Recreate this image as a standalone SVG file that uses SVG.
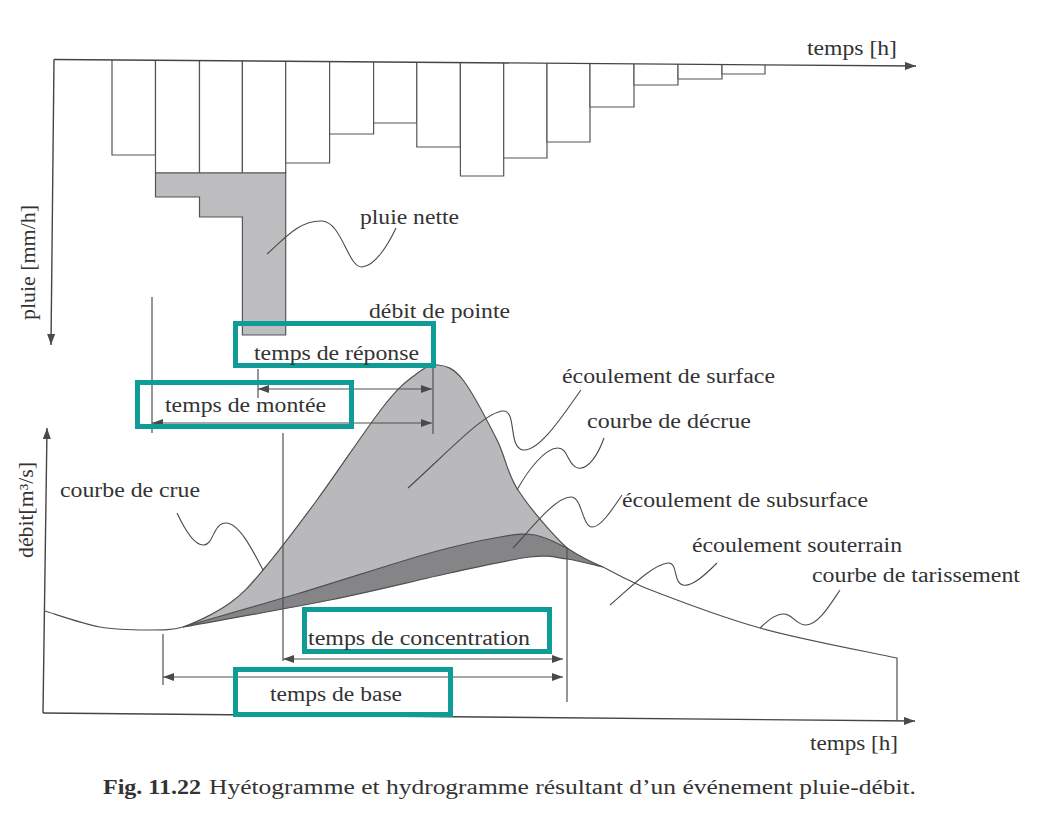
<svg xmlns="http://www.w3.org/2000/svg" width="1061" height="817" viewBox="0 0 1061 817">
<style>
.ln{fill:none;stroke:#505050;stroke-width:1.2}
.ax{fill:none;stroke:#454545;stroke-width:1.4}
.bar{fill:#fff;stroke:#555;stroke-width:1.2}
.ld{fill:none;stroke:#4a4a4a;stroke-width:1.1}
.t{font-family:"Liberation Serif","Times New Roman",serif;font-size:20px;fill:#333}
.box{fill:none;stroke:#109c96;stroke-width:5}
.arr{fill:none;stroke:#505050;stroke-width:1.2;marker-start:url(#ah);marker-end:url(#ah)}
</style>
<defs>
<marker id="ah" markerUnits="userSpaceOnUse" markerWidth="12" markerHeight="10" refX="11" refY="4" orient="auto-start-reverse">
<path d="M0,0 L11,4 L0,8 Z" fill="#4a4a4a"/>
</marker>
</defs>
<rect width="1061" height="817" fill="#fff"/>

<g id="hyetogramme">
<path class="bar" d="M112,59.9 V155 H155.5 V60.3"/>
<path class="bar" d="M155.5,60.3 V173 H199.5 V60.6"/>
<path class="bar" d="M199.5,60.6 V173 H242.4 V60.9"/>
<path class="bar" d="M242.4,60.9 V173 H285.7 V61.2"/>
<path class="bar" d="M285.7,61.2 V163 H329.6 V61.6"/>
<path class="bar" d="M329.6,61.6 V134 H373.6 V61.9"/>
<path class="bar" d="M373.6,61.9 V123 H416.8 V62.2"/>
<path class="bar" d="M416.8,62.2 V147 H460.4 V62.6"/>
<path class="bar" d="M460.4,62.6 V176 H503.7 V62.9"/>
<path class="bar" d="M503.7,62.9 V158 H547 V63.2"/>
<path class="bar" d="M547,63.2 V142 H590 V63.5"/>
<path class="bar" d="M590,63.5 V107 H634 V63.9"/>
<path class="bar" d="M634,63.9 V85 H678 V64.2"/>
<path class="bar" d="M678,64.2 V79 H722 V64.5"/>
<path class="bar" d="M722,64.5 V74 H765 V64.9"/>
<path d="M155.5,173 H285.7 V335 H242.4 V217 H199.5 V197 H155.5 Z" fill="#bdbdbf" stroke="#555" stroke-width="1.2"/>
</g>

<g id="axes">
<line class="ax" x1="54" y1="59.5" x2="916" y2="66" marker-end="url(#ah)"/>
<line class="ax" x1="54" y1="59.5" x2="51" y2="345" marker-end="url(#ah)"/>
<line class="ax" x1="43" y1="713" x2="47" y2="428" marker-end="url(#ah)"/>
<line class="ax" x1="43" y1="713" x2="915" y2="721" marker-end="url(#ah)"/>
</g>

<g id="hydrogramme">
<path d="M183,627 C 196.3,622.5 216.7,612.5 230,603 C 243.3,593.5 248.5,587.2 263,570 C 277.5,552.8 297,527.2 317,500 C 337,472.8 366.7,427.8 383,407 C 399.3,386.2 405.8,382 415,375 C 424.2,368 430,364.2 438,365 C 446,365.8 453.2,367.5 463,380 C 472.8,392.5 487.8,421.7 497,440 C 506.2,458.3 506.3,472 518,490 C 529.7,508 552.8,535.2 567,548 C 579,556 591,562 603,567 C 597,565.7 579.2,560.7 567,559 C 554.8,557.3 549.5,554.7 530,557 C 510.5,559.3 483.3,565.8 450,573 C 416.7,580.2 374.5,591 330,600 C 285.5,609 207.5,622.5 183,627 Z" fill="#b9b9bb"/>
<path d="M183,627 C 202.5,621.3 258.8,605.3 300,593 C 341.2,580.7 396.7,562.3 430,553 C 463.3,543.7 482.5,540 500,537 C 517.5,534 523.8,533.2 535,535 C 546.2,536.8 561.7,545.8 567,548 C 579,556 591,562 603,567 C 597,565.7 579.2,560.7 567,559 C 554.8,557.3 549.5,554.7 530,557 C 510.5,559.3 483.3,565.8 450,573 C 416.7,580.2 374.5,591 330,600 C 285.5,609 207.5,622.5 183,627 Z" fill="#858587"/>
<path class="ln" d="M183,627 C 202.5,621.3 258.8,605.3 300,593 C 341.2,580.7 396.7,562.3 430,553 C 463.3,543.7 482.5,540 500,537 C 517.5,534 523.8,533.2 535,535 C 546.2,536.8 561.7,545.8 567,548" stroke-width="0.9"/>
<path class="ln" d="M183,627 C 207.5,622.5 285.5,609 330,600 C 374.5,591 416.7,580.2 450,573 C 483.3,565.8 510.5,559.3 530,557 C 549.5,554.7 554.8,557.3 567,559 C 579.2,560.7 597,565.7 603,567" stroke-width="0.9"/>
<path class="ln" d="M45,611 C 54.2,613.7 82.5,623.8 100,627 C 117.5,630.2 136.2,630 150,630 C 163.8,630 172,630 183,627 C 196.3,622.5 216.7,612.5 230,603 C 243.3,593.5 248.5,587.2 263,570 C 277.5,552.8 297,527.2 317,500 C 337,472.8 366.7,427.8 383,407 C 399.3,386.2 405.8,382 415,375 C 424.2,368 430,364.2 438,365 C 446,365.8 453.2,367.5 463,380 C 472.8,392.5 487.8,421.7 497,440 C 506.2,458.3 506.3,472 518,490 C 529.7,508 552.8,535.2 567,548 C 579,556 591,562 603,567 C 616,574 630,581 643,587 C 669.2,597.2 717.7,616.2 760,628 C 802.3,639.8 874.2,653 897,658 L897,721"/>
</g>

<g id="connectors">
<line class="ln" x1="152" y1="297" x2="152" y2="433"/>
<line class="ln" x1="258" y1="369" x2="258" y2="398"/>
<line class="ln" x1="433" y1="364" x2="433" y2="434"/>
<line class="ln" x1="283" y1="433" x2="283" y2="661"/>
<line class="ln" x1="163" y1="634" x2="163" y2="685"/>
<line class="ln" x1="567" y1="547" x2="567" y2="702"/>
<line class="arr" x1="258" y1="389" x2="432" y2="389"/>
<line class="arr" x1="152" y1="423" x2="432" y2="423"/>
<line class="arr" x1="283" y1="659" x2="563" y2="659"/>
<line class="arr" x1="163" y1="677" x2="563" y2="677"/>
<path class="ld" d="M267,254 C 285,238 300,220 322,221 C 342,222 348,268 362,267 C 375,266 388,245 396,228"/>
<path class="ld" d="M177,513 C 185,530 195,546 204,545 C 214,544 213,523 226,523 C 240,523 255,555 263,570"/>
<path class="ld" d="M581,390 C 565,412 540,452 523,450 C 508,448 517,410 503,411 C 485,412 450,450 408,488"/>
<path class="ld" d="M604,438 C 598,455 588,470 578,468 C 568,466 568,448 558,448 C 545,448 528,470 517,490"/>
<path class="ld" d="M622,495 C 612,510 600,528 592,527 C 582,526 582,497 571,497 C 555,497 530,530 513,548"/>
<path class="ld" d="M717,563 C 705,575 692,587 683,585 C 673,583 678,562 668,563 C 652,565 630,588 610,605"/>
<path class="ld" d="M840,590 C 830,605 818,625 806,625 C 795,625 793,613 782,614 C 772,615 765,624 760,628"/>
</g>

<g id="label-temps-h-haut"><text class="t" x="807" y="55" textLength="90" lengthAdjust="spacingAndGlyphs">temps [h]</text></g>
<g id="label-pluie-axe"><text class="t" transform="translate(35,320) rotate(-90)" textLength="115" lengthAdjust="spacingAndGlyphs">pluie [mm/h]</text></g>
<g id="label-pluie-nette"><text class="t" x="360" y="224" textLength="99" lengthAdjust="spacingAndGlyphs">pluie nette</text></g>
<g id="label-debit-pointe"><text class="t" x="369" y="318" textLength="141" lengthAdjust="spacingAndGlyphs">débit de pointe</text></g>
<g id="node-temps-reponse"><rect class="box" x="235.5" y="323.5" width="198" height="42"/><text class="t" x="254" y="360" textLength="165" lengthAdjust="spacingAndGlyphs">temps de réponse</text></g>
<g id="node-temps-montee"><rect class="box" x="137.5" y="382.5" width="214" height="44"/><text class="t" x="165" y="412" textLength="161" lengthAdjust="spacingAndGlyphs">temps de montée</text></g>
<g id="label-ecoulement-surface"><text class="t" x="562" y="383" textLength="213" lengthAdjust="spacingAndGlyphs">écoulement de surface</text></g>
<g id="label-courbe-decrue"><text class="t" x="587" y="428" textLength="164" lengthAdjust="spacingAndGlyphs">courbe de décrue</text></g>
<g id="label-courbe-crue"><text class="t" x="60" y="497" textLength="140" lengthAdjust="spacingAndGlyphs">courbe de crue</text></g>
<g id="label-ecoulement-subsurface"><text class="t" x="622" y="507" textLength="246" lengthAdjust="spacingAndGlyphs">écoulement de subsurface</text></g>
<g id="label-debit-axe"><text class="t" transform="translate(33,558) rotate(-90)" textLength="96" lengthAdjust="spacingAndGlyphs">débit[m³/s]</text></g>
<g id="label-ecoulement-souterrain"><text class="t" x="692" y="552" textLength="210" lengthAdjust="spacingAndGlyphs">écoulement souterrain</text></g>
<g id="label-courbe-tarissement"><text class="t" x="812" y="582" textLength="208" lengthAdjust="spacingAndGlyphs">courbe de tarissement</text></g>
<g id="node-temps-concentration"><rect class="box" x="304.5" y="609.5" width="245" height="42"/><text class="t" x="308" y="645" textLength="222" lengthAdjust="spacingAndGlyphs">temps de concentration</text></g>
<g id="node-temps-base"><rect class="box" x="235.5" y="669.5" width="215" height="45"/><text class="t" x="270" y="701" textLength="132" lengthAdjust="spacingAndGlyphs">temps de base</text></g>
<g id="label-temps-h-bas"><text class="t" x="810" y="750" textLength="88" lengthAdjust="spacingAndGlyphs">temps [h]</text></g>
<g id="caption">
<text class="t" x="103" y="794" font-weight="bold" textLength="98" lengthAdjust="spacingAndGlyphs">Fig. 11.22</text>
<text class="t" x="209" y="794" textLength="707" lengthAdjust="spacingAndGlyphs">Hyétogramme et hydrogramme résultant d’un événement pluie-débit.</text>
</g>
</svg>
